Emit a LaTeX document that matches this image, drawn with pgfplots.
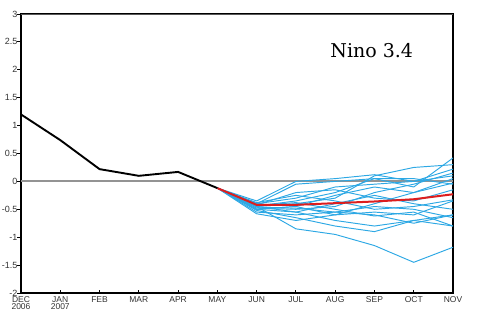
\documentclass[border=0pt]{standalone}
\usepackage{pgfplots}
\pgfplotsset{compat=1.18}
\usepackage{fontspec}
\setmainfont{Liberation Sans}
\newfontfamily\titlefont{DejaVu Serif}

\definecolor{memblue}{RGB}{45,168,228}
\definecolor{meanred}{RGB}{220,30,30}

\begin{document}
\begin{tikzpicture}
\useasboundingbox (-21pt,-24pt) rectangle (459pt,293pt);
\begin{axis}[
  scale only axis,
  width=432pt, height=279pt,
  xmin=0, xmax=11, ymin=-2, ymax=3,
  xtick={0,...,11},
  xticklabels={DEC\\2006,JAN\\2007,FEB,MAR,APR,MAY,JUN,JUL,AUG,SEP,OCT,NOV},
  xticklabel style={align=center, font=\fontsize{8.5}{7.5}\selectfont, text=black!80, inner sep=0.5pt, yshift=-2.5pt},
  ytick={-2,-1.5,...,3},
  yticklabels={-2,-1.5,-1,-0.5,0,0.5,1,1.5,2,2.5,3},
  yticklabel style={font=\fontsize{9}{9}\selectfont, text=black!80, inner sep=0.5pt, xshift=0.5pt},
  axis line style={black, line width=2.4pt},
  tick style={black, line width=1pt},
  major tick length=3.5pt,
  xtick pos=bottom, ytick pos=left,
  xtick align=inside, ytick align=outside,
  clip=true,
]
% zero reference line
\addplot[gray!85, line width=2pt, forget plot] coordinates {(0,0) (11,0)};

% ensemble members
\pgfplotsset{member/.style={memblue, line width=0.95pt}}
\addplot[member] coordinates {(5,-0.12) (6,-0.45) (7,-0.85) (8,-0.95) (9,-1.15) (10,-1.45) (11,-1.18)};
\addplot[member] coordinates {(5,-0.12) (6,-0.40) (7,-0.05) (8,0.00) (9,0.05) (10,-0.10) (11,0.42)};
\addplot[member] coordinates {(5,-0.12) (6,-0.35) (7,0.00) (8,0.05) (9,0.12) (10,0.00) (11,0.10)};
\addplot[member] coordinates {(5,-0.12) (6,-0.50) (7,-0.55) (8,-0.70) (9,-0.80) (10,-0.70) (11,-0.80)};
\addplot[member] coordinates {(5,-0.12) (6,-0.45) (7,-0.40) (8,-0.30) (9,0.10) (10,0.25) (11,0.30)};
\addplot[member] coordinates {(5,-0.12) (6,-0.55) (7,-0.60) (8,-0.55) (9,-0.60) (10,-0.75) (11,-0.60)};
\addplot[member] coordinates {(5,-0.12) (6,-0.40) (7,-0.30) (8,-0.10) (9,-0.05) (10,0.00) (11,0.22)};
\addplot[member] coordinates {(5,-0.12) (6,-0.48) (7,-0.50) (8,-0.45) (9,-0.20) (10,-0.05) (11,0.15)};
\addplot[member] coordinates {(5,-0.12) (6,-0.42) (7,-0.20) (8,-0.15) (9,-0.30) (10,-0.35) (11,-0.15)};
\addplot[member] coordinates {(5,-0.12) (6,-0.38) (7,-0.25) (8,-0.35) (9,-0.50) (10,-0.45) (11,-0.33)};
\addplot[member] coordinates {(5,-0.12) (6,-0.50) (7,-0.45) (8,-0.60) (9,-0.40) (10,-0.20) (11,0.05)};
\addplot[member] coordinates {(5,-0.12) (6,-0.45) (7,-0.55) (8,-0.40) (9,-0.25) (10,-0.40) (11,-0.50)};
\addplot[member] coordinates {(5,-0.12) (6,-0.52) (7,-0.65) (8,-0.80) (9,-0.90) (10,-0.70) (11,-0.60)};
\addplot[member] coordinates {(5,-0.12) (6,-0.44) (7,-0.35) (8,-0.20) (9,0.05) (10,0.05) (11,-0.05)};
\addplot[member] coordinates {(5,-0.12) (6,-0.46) (7,-0.48) (8,-0.55) (9,-0.45) (10,-0.50) (11,-0.65)};
\addplot[member] coordinates {(5,-0.12) (6,-0.40) (7,-0.45) (8,-0.25) (9,-0.10) (10,-0.20) (11,-0.03)};
\addplot[member] coordinates {(5,-0.12) (6,-0.58) (7,-0.70) (8,-0.60) (9,-0.55) (10,-0.60) (11,-0.35)};
\addplot[member] coordinates {(5,-0.12) (6,-0.43) (7,-0.38) (8,-0.50) (9,-0.62) (10,-0.55) (11,-0.80)};

% ensemble mean
\addplot[meanred, line width=2pt] coordinates {(5,-0.12) (6,-0.42) (7,-0.42) (8,-0.39) (9,-0.36) (10,-0.32) (11,-0.23)};

% observed
\addplot[black, line width=1.9pt] coordinates {(0,1.2) (1,0.74) (2,0.22) (3,0.10) (4,0.17) (5,-0.12)};

\node[font=\titlefont\fontsize{19}{20}\selectfont] at (axis cs:8.93,2.35) {Nino 3.4};

% top edge of the frame in dark gray
\draw[black!65, line width=2.4pt] (rel axis cs:0,1) -- (rel axis cs:1,1);
\end{axis}
\end{tikzpicture}
\end{document}
